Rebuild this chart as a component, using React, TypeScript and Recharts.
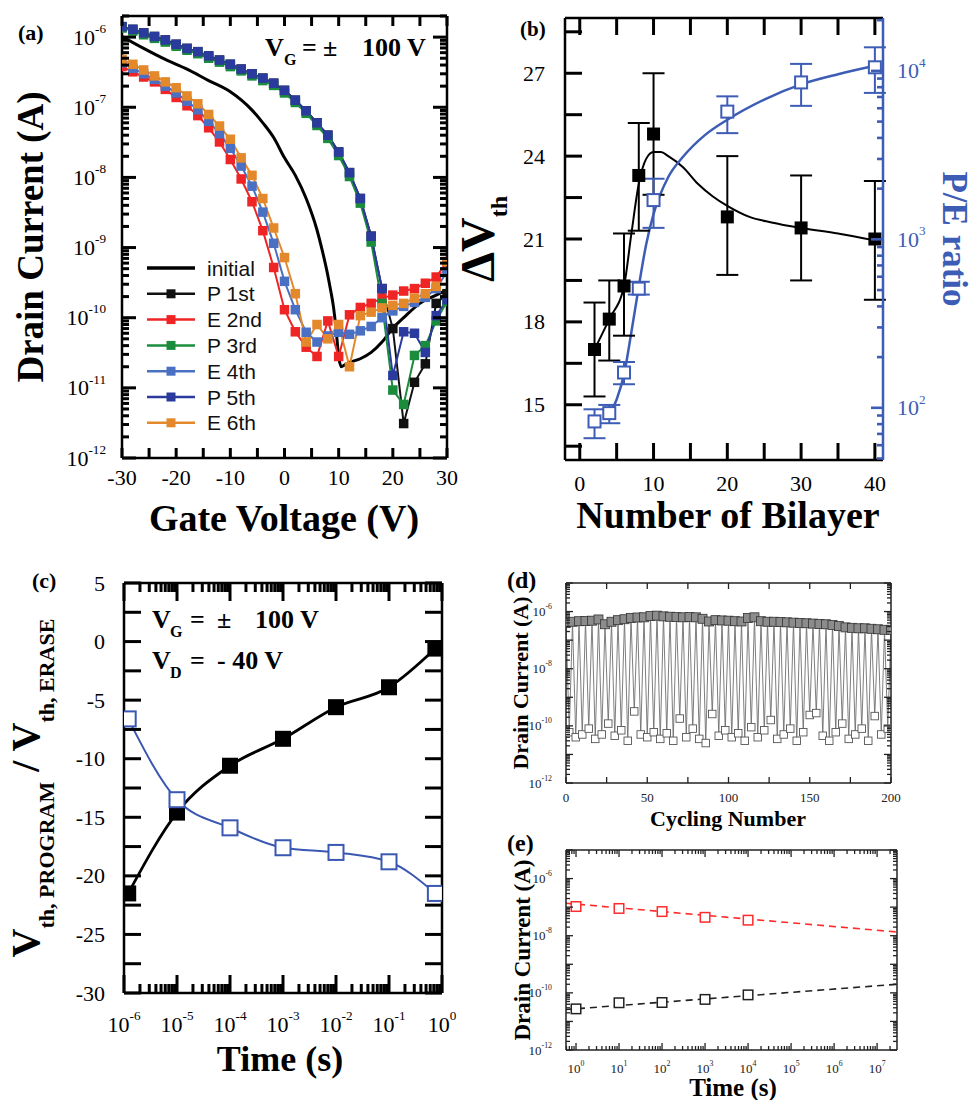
import React from 'react';
import { ComposedChart, Line, Scatter, XAxis, YAxis, ErrorBar, Legend } from 'recharts';

const SERIF = '"Liberation Serif","Times New Roman",Times,serif';
const SANS = '"Liberation Sans",Arial,Helvetica,sans-serif';
const PE_BLUE = '#3d5cb5';

/* ---------------- Panel (a): transfer curves ---------------- */
const gateVoltage = [-30, -28, -26, -24, -22, -20, -18, -16, -14, -12, -10, -8, -6, -4, -2, 0, 2, 4, 6, 8, 10, 12, 14, 16, 18, 20, 22, 24, 26, 28, 30];
const initialVg = [-30, -26, -22, -18, -14, -10, -6, -4, -2, 0, 2, 4, 6, 7, 8, 8.5, 9, 9.5, 10, 10.5, 11, 12, 14, 16, 18, 20, 22, 25, 28, 30];
const initialId = [1.02e-6, 6.9e-7, 4.8e-7, 3.5e-7, 2.4e-7, 1.66e-7, 9.1e-8, 6.0e-8, 3.7e-8, 1.9e-8, 1.07e-8, 5.0e-9, 1.78e-9, 8.9e-10, 4.0e-10, 2.5e-10, 1.5e-10, 7.1e-11, 2.8e-11, 2.0e-11, 2.1e-11, 2.3e-11, 2.6e-11, 3.2e-11, 4.5e-11, 7.1e-11, 1.0e-10, 1.6e-10, 2.1e-10, 2.5e-10];
const p1st = [1.41e-6, 1.29e-6, 1.15e-6, 1.02e-6, 9.1e-7, 7.9e-7, 6.9e-7, 6.2e-7, 5.4e-7, 4.7e-7, 4.1e-7, 3.5e-7, 3.0e-7, 2.6e-7, 2.2e-7, 1.74e-7, 1.26e-7, 8.9e-8, 6.0e-8, 4.0e-8, 2.3e-8, 1.17e-8, 5.0e-9, 1.45e-9, 2.6e-10, 7.0e-11, 3.1e-12, 1.2e-11, 2.2e-11, 1.6e-10, 2.2e-10];
const e2nd = [3.8e-7, 3.2e-7, 2.7e-7, 2.3e-7, 1.8e-7, 1.38e-7, 1.05e-7, 7.6e-8, 5.1e-8, 3.2e-8, 1.8e-8, 9.5e-9, 4.5e-9, 1.74e-9, 5.2e-10, 1.3e-10, 6.3e-11, 3.8e-11, 2.8e-11, 9.0e-11, 2.8e-11, 1.1e-10, 1.4e-10, 1.6e-10, 1.9e-10, 2.1e-10, 2.4e-10, 2.6e-10, 3.1e-10, 3.8e-10, 6.3e-10];
const p3rd = [1.35e-6, 1.22e-6, 1.08e-6, 9.6e-7, 8.5e-7, 7.4e-7, 6.5e-7, 5.8e-7, 5.0e-7, 4.4e-7, 3.8e-7, 3.3e-7, 2.8e-7, 2.4e-7, 2.05e-7, 1.6e-7, 1.17e-7, 8.2e-8, 5.5e-8, 3.6e-8, 2.05e-8, 1.03e-8, 4.3e-9, 1.2e-9, 1.6e-10, 9.3e-12, 5.8e-12, 2.9e-11, 4.0e-11, 9.0e-11, 1.7e-10];
const e4th = [4.3e-7, 3.6e-7, 3.0e-7, 2.5e-7, 2.0e-7, 1.6e-7, 1.22e-7, 9.2e-8, 6.3e-8, 4.2e-8, 2.6e-8, 1.45e-8, 7.5e-9, 3.2e-9, 1.15e-9, 3.3e-10, 1.3e-10, 6.2e-11, 4.5e-11, 5.5e-11, 6.2e-11, 5.8e-11, 6.5e-11, 7.5e-11, 1.0e-10, 1.25e-10, 1.45e-10, 1.65e-10, 1.95e-10, 2.6e-10, 4.5e-10];
const p5th = [1.41e-6, 1.29e-6, 1.15e-6, 1.02e-6, 9.1e-7, 7.9e-7, 6.9e-7, 6.2e-7, 5.4e-7, 4.7e-7, 4.1e-7, 3.5e-7, 3.0e-7, 2.6e-7, 2.2e-7, 1.74e-7, 1.26e-7, 8.9e-8, 6.0e-8, 4.0e-8, 2.3e-8, 1.17e-8, 5.0e-9, 1.45e-9, 2.6e-10, 1.5e-11, 6.3e-11, 6.0e-11, 3.2e-11, 1.07e-10, 1.8e-10];
const e6th = [4.8e-7, 4.1e-7, 3.4e-7, 2.8e-7, 2.3e-7, 1.9e-7, 1.45e-7, 1.12e-7, 7.9e-8, 5.4e-8, 3.5e-8, 1.9e-8, 1.07e-8, 5.0e-9, 1.9e-9, 7.2e-10, 2.2e-10, 4.5e-11, 8.0e-11, 5.0e-11, 8.0e-11, 2.0e-11, 1.07e-10, 1.2e-10, 1.38e-10, 1.5e-10, 1.6e-10, 1.9e-10, 2.2e-10, 2.8e-10, 6.3e-10];
const aSeriesNames = ['P 1st', 'E 2nd', 'P 3rd', 'E 4th', 'P 5th', 'E 6th'];
const aSeriesColors = ['#111111', '#ef2424', '#1b8c3c', '#4a70c4', '#2b3b9d', '#e3892b'];
const aSeriesValues = [p1st, e2nd, p3rd, e4th, p5th, e6th];
const aXTicks = [-30, -25, -20, -15, -10, -5, 0, 5, 10, 15, 20, 25, 30];

/* ---------------- Panel (b): bilayer dependence ---------------- */
const bilayers = [2, 4, 6, 8, 10, 20, 30, 40];
const deltaVth = [17.0, 18.1, 19.3, 23.3, 24.8, 21.8, 21.4, 21.0];
const deltaVthLow = [15.3, 16.6, 17.5, 21.3, 22.6, 19.7, 19.5, 18.8];
const deltaVthHigh = [18.7, 19.5, 21.2, 25.2, 27.0, 24.0, 23.3, 23.1];
const peRatio = [83, 93, 162, 510, 1710, 5730, 8540, 10500];
const peRatioLow = [66, 81, 138, 470, 1170, 4270, 6200, 7400];
const peRatioHigh = [98, 104, 187, 560, 2290, 7060, 11000, 13800];
const fitBilayerVth = [2, 4, 6, 7, 8, 9, 10, 11, 12, 14, 16, 18, 20, 23, 26, 30, 35, 40];
const fitDeltaVth = [17.0, 18.1, 19.3, 21.2, 23.0, 23.9, 24.15, 24.15, 24.0, 23.6, 23.0, 22.55, 22.2, 21.8, 21.6, 21.4, 21.2, 20.95];
const fitBilayerRatio = [4, 5, 6, 7, 8, 9, 10, 12, 14, 17, 20, 25, 30, 35, 40];
const fitPeRatio = [91, 112, 158, 282, 525, 933, 1413, 2344, 3090, 4169, 5129, 6761, 8318, 9550, 10715];
const bXTicks = [0, 5, 10, 15, 20, 25, 30, 35, 40];
const bYTicks = [13.5, 15, 16.5, 18, 19.5, 21, 22.5, 24, 25.5, 27, 28.5];

/* ---------------- Panel (c): threshold voltage vs time ---------------- */
const retentionTime = [1.2e-6, 1e-5, 1e-4, 1e-3, 1e-2, 1e-1, 0.75];
const vthProgram = [-21.5, -14.6, -10.6, -8.3, -5.6, -3.9, -0.6];
const vthErase = [-6.6, -13.5, -15.9, -17.6, -18.0, -18.8, -21.5];
const cYTicks = [-30, -27.5, -25, -22.5, -20, -17.5, -15, -12.5, -10, -7.5, -5, -2.5, 0, 2.5, 5];

/* ---------------- Panel (d): endurance cycling ---------------- */
const programCurrent = [4.0e-7, 4.4e-7, 4.6e-7, 4.7e-7, 4.8e-7, 5.3e-7, 3.6e-7, 4.4e-7, 5.0e-7, 5.4e-7, 6.0e-7, 6.2e-7, 6.3e-7, 7.0e-7, 7.2e-7, 6.8e-7, 6.6e-7, 6.4e-7, 6.3e-7, 6.4e-7, 6.3e-7, 5.6e-7, 4.5e-7, 5.0e-7, 4.9e-7, 4.8e-7, 4.6e-7, 4.5e-7, 6.0e-7, 6.3e-7, 4.6e-7, 4.4e-7, 4.4e-7, 4.3e-7, 4.2e-7, 4.1e-7, 4.0e-7, 3.9e-7, 3.8e-7, 3.7e-7, 3.6e-7, 3.4e-7, 3.1e-7, 2.8e-7, 2.7e-7, 2.6e-7, 2.6e-7, 2.5e-7, 2.4e-7, 2.3e-7, 2.3e-7];
const eraseCurrent = [6e-11, 4e-11, 5e-11, 8e-11, 3.5e-11, 5e-11, 1.2e-10, 4.5e-11, 7e-11, 3e-11, 3.2e-10, 5e-11, 4e-11, 6e-11, 3.5e-11, 5.5e-11, 3e-11, 1.8e-10, 4e-11, 8e-11, 3.5e-11, 2.5e-11, 2.6e-10, 4.5e-11, 7e-11, 4e-11, 5.5e-11, 3e-11, 9e-11, 4e-11, 7e-11, 1.6e-10, 3.5e-11, 5e-11, 8e-11, 3e-11, 6e-11, 2.4e-10, 2.8e-10, 4.5e-11, 3e-11, 6e-11, 1.2e-10, 3.5e-11, 5e-11, 8e-11, 3e-11, 2.2e-10, 5e-11, 8e-11];
const cycleStep = 4;
const dXTicks = [0, 25, 50, 75, 100, 125, 150, 175, 200];

/* ---------------- Panel (e): retention ---------------- */
const storageTime = [1, 10, 100, 1000, 10000];
const programRetention = [1.05e-7, 9.0e-8, 7.0e-8, 4.4e-8, 3.5e-8];
const eraseRetention = [2.75e-11, 4.5e-11, 4.6e-11, 5.9e-11, 8.5e-11];
const fitTime = [0.585, 2.9e7];
const programFit = [1.37e-7, 1.35e-8];
const eraseFit = [2.6e-11, 2.0e-10];

/* ---------------- helpers ---------------- */
function logTicks(min: number, max: number): number[] {
  const out: number[] = [];
  for (let e = Math.floor(Math.log10(min)); e <= Math.ceil(Math.log10(max)); e++) {
    for (let k = 1; k <= 9; k++) {
      const v = k * Math.pow(10, e);
      if (v >= min * (1 - 1e-9) && v <= max * (1 + 1e-9)) out.push(v);
    }
  }
  return out;
}
const isDecade = (v: number) => Math.abs(Math.log10(v) - Math.round(Math.log10(v))) < 1e-6;
const expOf = (v: number) => Math.round(Math.log10(v));
const isMult = (v: number, m: number) => Math.abs(v / m - Math.round(v / m)) < 1e-9;

const pow10 = (v: number, fs: number) => (
  <>
    10<tspan fontSize={fs * 0.6} dy={-fs * 0.42}>{String(expOf(v))}</tspan>
  </>
);

type Side = 'left' | 'right' | 'bottom';
function makeLabel(side: Side, label: (v: number) => React.ReactNode | null, off: number, fs: number, color = '#000') {
  return (props: any) => {
    const x = Number(props.x);
    const y = Number(props.y);
    const v = Number(props.payload ? props.payload.value : NaN);
    const content = label(v);
    if (content == null) return <g />;
    let tx = x, ty = y;
    let anchor: 'start' | 'middle' | 'end' = 'middle';
    if (side === 'left') { tx = x - off; anchor = 'end'; }
    else if (side === 'right') { tx = x + off; anchor = 'start'; }
    else { ty = y + off; }
    return (
      <text x={tx} y={ty} textAnchor={anchor} dominantBaseline="central" fontFamily={SERIF} fontSize={fs} fill={color}>
        {content}
      </text>
    );
  };
}

const squareDot = (size: number, fill: string, stroke: string, sw = 0) => (p: any) => {
  if (p == null || p.cx == null || p.cy == null || isNaN(p.cx) || isNaN(p.cy)) return <g key={`n-${p && p.index}`} />;
  return (
    <rect key={`s-${p.index}`} x={p.cx - size / 2} y={p.cy - size / 2} width={size} height={size} fill={fill} stroke={stroke} strokeWidth={sw} />
  );
};
const squareShape = (size: number, fill: string, stroke: string, sw = 0) => (p: any) => (
  <rect x={p.cx - size / 2} y={p.cy - size / 2} width={size} height={size} fill={fill} stroke={stroke} strokeWidth={sw} />
);

const noMargin = { top: 0, right: 0, bottom: 0, left: 0 };
const axisCommon = { interval: 0 as const, tickSize: 0, tickMargin: 0, tickLine: false, allowDataOverflow: true };
const noTick = () => <g />;

/* ---------------- frame geometry (chart boxes & axis sizes) ---------------- */
interface Frame { left: number; top: number; w: number; h: number; yl: number; yr: number; xt: number; xb: number }
const FA: Frame = { left: 0, top: 0, w: 470, h: 540, yl: 122, yr: 23, xt: 16, xb: 82 };
const FB: Frame = { left: 470, top: 0, w: 504, h: 540, yl: 95, yr: 91, xt: 18, xb: 80 };
const FC: Frame = { left: 0, top: 545, w: 480, h: 555, yl: 124, yr: 38, xt: 38, xb: 107 };
const FD: Frame = { left: 490, top: 560, w: 484, h: 255, yl: 76, yr: 83, xt: 23, xb: 32 };
const FE: Frame = { left: 490, top: 820, w: 484, h: 280, yl: 76, yr: 77, xt: 30, xb: 50 };
const plotOf = (f: Frame) => ({ x0: f.left + f.yl, x1: f.left + f.w - f.yr, y0: f.top + f.xt, y1: f.top + f.h - f.xb });

const A_X: [number, number] = [-30, 30];
const A_Y: [number, number] = [1e-12, 2e-6];
const B_X: [number, number] = [-2, 41.1];
const B_YL: [number, number] = [13, 29];
const B_YR: [number, number] = [49, 20600];
const C_X: [number, number] = [1e-6, 1];
const C_Y: [number, number] = [-30, 5];
const D_X: [number, number] = [0, 200];
const D_Y: [number, number] = [1e-12, 1e-5];
const E_X: [number, number] = [0.585, 2.9e7];
const E_Y: [number, number] = [1e-12, 1e-5];

/* inward frame ticks, mapped with the same domains the chart axes use */
const mapper = (dom: [number, number], r0: number, r1: number, log: boolean) => (v: number) =>
  log
    ? r0 + ((Math.log10(v) - Math.log10(dom[0])) / (Math.log10(dom[1]) - Math.log10(dom[0]))) * (r1 - r0)
    : r0 + ((v - dom[0]) / (dom[1] - dom[0])) * (r1 - r0);

interface Seg { x1: number; y1: number; x2: number; y2: number }
function tickSegs(f: Frame, side: 'x' | 'yl' | 'yr' | 'ylr', ticks: number[], dom: [number, number], log: boolean, len: (v: number) => number): Seg[] {
  const p = plotOf(f);
  const out: Seg[] = [];
  if (side === 'x') {
    const m = mapper(dom, p.x0, p.x1, log);
    ticks.forEach((v) => {
      const x = m(v);
      const L = len(v);
      out.push({ x1: x, y1: p.y1, x2: x, y2: p.y1 - L });
      out.push({ x1: x, y1: p.y0, x2: x, y2: p.y0 + L });
    });
  } else {
    const m = mapper(dom, p.y1, p.y0, log);
    ticks.forEach((v) => {
      const y = m(v);
      const L = len(v);
      if (side === 'yl' || side === 'ylr') out.push({ x1: p.x0, y1: y, x2: p.x0 + L, y2: y });
      if (side === 'yr' || side === 'ylr') out.push({ x1: p.x1, y1: y, x2: p.x1 - L, y2: y });
    });
  }
  return out;
}

/* ---------------- Panel A ---------------- */
const aYTicks = logTicks(A_Y[0], A_Y[1]);
const aInitialData = initialVg.map((x, i) => ({ x, y: initialId[i] }));
const aData = aSeriesValues.map((vals) => gateVoltage.map((x, i) => ({ x, y: vals[i] })));

const legendRowY = (i: number) => 13 + 25.8 * i;
const LegendA = () => (
  <svg width={150} height={190} style={{ overflow: 'visible', display: 'block' }}>
    <line x1={7} x2={55} y1={legendRowY(0)} y2={legendRowY(0)} stroke="#000" strokeWidth={3.5} />
    <text x={67} y={legendRowY(0)} dominantBaseline="central" fontFamily={SANS} fontSize={21} fill="#111">initial</text>
    {aSeriesNames.map((n, i) => (
      <g key={n}>
        <line x1={7} x2={55} y1={legendRowY(i + 1)} y2={legendRowY(i + 1)} stroke={aSeriesColors[i]} strokeWidth={2.5} />
        <rect x={31 - 4.5} y={legendRowY(i + 1) - 4.5} width={9} height={9} fill={aSeriesColors[i]} />
        <text x={67} y={legendRowY(i + 1)} dominantBaseline="central" fontFamily={SANS} fontSize={21} fill="#111">{n}</text>
      </g>
    ))}
  </svg>
);

function PanelA() {
  const axisLine = { stroke: '#000', strokeWidth: 2.5 };
  return (
    <ComposedChart width={FA.w} height={FA.h} margin={noMargin}>
      <XAxis xAxisId="x" dataKey="x" type="number" domain={A_X} ticks={aXTicks} {...axisCommon} axisLine={axisLine} height={FA.xb}
        tick={makeLabel('bottom', (v) => (isMult(v, 10) ? String(v) : null), 19, 22)} />
      <XAxis xAxisId="xt" orientation="top" dataKey="x" type="number" domain={A_X} ticks={aXTicks} {...axisCommon} axisLine={axisLine} height={FA.xt} tick={noTick} />
      <YAxis yAxisId="y" type="number" scale="log" domain={A_Y} ticks={aYTicks} {...axisCommon} axisLine={axisLine} width={FA.yl}
        tick={makeLabel('left', (v) => (isDecade(v) ? pow10(v, 22) : null), 16, 22)} />
      <YAxis yAxisId="yr" orientation="right" type="number" scale="log" domain={A_Y} ticks={aYTicks} {...axisCommon} axisLine={axisLine} width={FA.yr} tick={noTick} />
      <Line xAxisId="x" yAxisId="y" data={aInitialData} dataKey="y" name="initial" type="monotone" stroke="#000" strokeWidth={3} dot={false} activeDot={false} isAnimationActive={false} />
      {aData.map((d, i) => (
        <Line key={aSeriesNames[i]} xAxisId="x" yAxisId="y" data={d} dataKey="y" name={aSeriesNames[i]} type="linear" stroke={aSeriesColors[i]} strokeWidth={2}
          dot={squareDot(9.5, aSeriesColors[i], aSeriesColors[i])} activeDot={false} isAnimationActive={false} />
      ))}
      <Legend layout="vertical" align="center" verticalAlign="middle" content={() => <LegendA />}
        wrapperStyle={{ position: 'absolute', left: 140, top: 255, width: 150, height: 190 }} />
    </ComposedChart>
  );
}

/* ---------------- Panel B ---------------- */
const bRightTicks = logTicks(B_YR[0], B_YR[1]);
const bVthData = bilayers.map((x, i) => ({ x, y: deltaVth[i], err: [deltaVth[i] - deltaVthLow[i], deltaVthHigh[i] - deltaVth[i]] }));
const bRatioData = bilayers.map((x, i) => ({ x, y: peRatio[i], err: [peRatio[i] - peRatioLow[i], peRatioHigh[i] - peRatio[i]] }));
const bFitVth = fitBilayerVth.map((x, i) => ({ x, y: fitDeltaVth[i] }));
const bFitRatio = fitBilayerRatio.map((x, i) => ({ x, y: fitPeRatio[i] }));

function PanelB() {
  const axisLine = { stroke: '#000', strokeWidth: 2.5 };
  return (
    <ComposedChart width={FB.w} height={FB.h} margin={noMargin}>
      <XAxis xAxisId="x" dataKey="x" type="number" domain={B_X} ticks={bXTicks} {...axisCommon} axisLine={axisLine} height={FB.xb}
        tick={makeLabel('bottom', (v) => (isMult(v, 10) ? String(v) : null), 23, 22)} />
      <XAxis xAxisId="xt" orientation="top" dataKey="x" type="number" domain={B_X} ticks={bXTicks} {...axisCommon} axisLine={axisLine} height={FB.xt} tick={noTick} />
      <YAxis yAxisId="l" type="number" domain={B_YL} ticks={bYTicks} {...axisCommon} axisLine={axisLine} width={FB.yl}
        tick={makeLabel('left', (v) => (isMult(v, 3) ? String(v) : null), 20, 22)} />
      <YAxis yAxisId="r" orientation="right" type="number" scale="log" domain={B_YR} ticks={bRightTicks} {...axisCommon}
        axisLine={{ stroke: PE_BLUE, strokeWidth: 2.5 }} width={FB.yr}
        tick={makeLabel('right', (v) => (isDecade(v) ? pow10(v, 22) : null), 14, 22, PE_BLUE)} />
      <Line xAxisId="x" yAxisId="l" data={bFitVth} dataKey="y" type="monotone" stroke="#000" strokeWidth={2} dot={false} activeDot={false} isAnimationActive={false} />
      <Line xAxisId="x" yAxisId="r" data={bFitRatio} dataKey="y" type="monotone" stroke={PE_BLUE} strokeWidth={2.5} dot={false} activeDot={false} isAnimationActive={false} />
      <Scatter xAxisId="x" yAxisId="l" data={bVthData} dataKey="y" shape={squareShape(13, '#000', '#000')} isAnimationActive={false}>
        <ErrorBar dataKey="err" direction="y" width={11} stroke="#000" strokeWidth={2} />
      </Scatter>
      <Scatter xAxisId="x" yAxisId="r" data={bRatioData} dataKey="y" shape={squareShape(12, '#fff', PE_BLUE, 2)} isAnimationActive={false}>
        <ErrorBar dataKey="err" direction="y" width={11} stroke={PE_BLUE} strokeWidth={2} />
      </Scatter>
    </ComposedChart>
  );
}

/* ---------------- Panel C ---------------- */
const cXTicks = logTicks(C_X[0], C_X[1]);
const cProgData = retentionTime.map((x, i) => ({ x, y: vthProgram[i] }));
const cEraseData = retentionTime.map((x, i) => ({ x, y: vthErase[i] }));
const C_BLUE = '#3a57b2';

function PanelC() {
  const axisLine = { stroke: '#000', strokeWidth: 2.5 };
  return (
    <ComposedChart width={FC.w} height={FC.h} margin={noMargin}>
      <XAxis xAxisId="x" dataKey="x" type="number" scale="log" domain={C_X} ticks={cXTicks} {...axisCommon} axisLine={axisLine} height={FC.xb}
        tick={makeLabel('bottom', (v) => (isDecade(v) ? pow10(v, 22) : null), 31, 22)} />
      <XAxis xAxisId="xt" orientation="top" dataKey="x" type="number" scale="log" domain={C_X} ticks={cXTicks} {...axisCommon} axisLine={axisLine} height={FC.xt} tick={noTick} />
      <YAxis yAxisId="y" type="number" domain={C_Y} ticks={cYTicks} {...axisCommon} axisLine={axisLine} width={FC.yl}
        tick={makeLabel('left', (v) => (isMult(v, 5) ? String(v) : null), 19, 22)} />
      <YAxis yAxisId="yr" orientation="right" type="number" domain={C_Y} ticks={cYTicks} {...axisCommon} axisLine={axisLine} width={FC.yr} tick={noTick} />
      <Line xAxisId="x" yAxisId="y" data={cProgData} dataKey="y" type="monotone" stroke="#000" strokeWidth={2.8}
        dot={squareDot(16, '#000', '#000')} activeDot={false} isAnimationActive={false} />
      <Line xAxisId="x" yAxisId="y" data={cEraseData} dataKey="y" type="monotone" stroke={C_BLUE} strokeWidth={2}
        dot={squareDot(15, '#fff', C_BLUE, 2)} activeDot={false} isAnimationActive={false} />
    </ComposedChart>
  );
}

/* ---------------- Panel D ---------------- */
const dYTicks = logTicks(D_Y[0], D_Y[1]);
const dProgData = programCurrent.map((y, i) => ({ x: i * cycleStep, y }));
const dEraseData = eraseCurrent.map((y, i) => ({ x: i * cycleStep + cycleStep / 2, y }));
const dZigzag: { x: number; y: number }[] = [];
programCurrent.forEach((y, i) => {
  dZigzag.push(dProgData[i]);
  if (i < eraseCurrent.length) dZigzag.push(dEraseData[i]);
});

function PanelD() {
  const axisLine = { stroke: '#222', strokeWidth: 1.5 };
  return (
    <ComposedChart width={FD.w} height={FD.h} margin={noMargin}>
      <XAxis xAxisId="x" dataKey="x" type="number" domain={D_X} ticks={dXTicks} {...axisCommon} axisLine={axisLine} height={FD.xb}
        tick={makeLabel('bottom', (v) => (isMult(v, 50) ? String(v) : null), 14, 13, '#222')} />
      <XAxis xAxisId="xt" orientation="top" dataKey="x" type="number" domain={D_X} ticks={dXTicks} {...axisCommon} axisLine={axisLine} height={FD.xt} tick={noTick} />
      <YAxis yAxisId="y" type="number" scale="log" domain={D_Y} ticks={dYTicks} {...axisCommon} axisLine={axisLine} width={FD.yl}
        tick={makeLabel('left', (v) => (isDecade(v) && expOf(v) % 2 === 0 ? pow10(v, 13) : null), 14, 13, '#222')} />
      <YAxis yAxisId="yr" orientation="right" type="number" scale="log" domain={D_Y} ticks={dYTicks} {...axisCommon} axisLine={axisLine} width={FD.yr} tick={noTick} />
      <Line xAxisId="x" yAxisId="y" data={dZigzag} dataKey="y" type="linear" stroke="#6f6f6f" strokeWidth={0.9} dot={false} activeDot={false} isAnimationActive={false} />
      <Line xAxisId="x" yAxisId="y" data={dProgData} dataKey="y" type="linear" stroke="#222" strokeWidth={1.4} dot={false} activeDot={false} isAnimationActive={false} />
      <Scatter xAxisId="x" yAxisId="y" data={dProgData} dataKey="y" shape={squareShape(9, '#8c8c8c', '#333', 0.8)} isAnimationActive={false} />
      <Scatter xAxisId="x" yAxisId="y" data={dEraseData} dataKey="y" shape={squareShape(7.5, '#fff', '#555', 0.9)} isAnimationActive={false} />
    </ComposedChart>
  );
}

/* ---------------- Panel E ---------------- */
const eXTicks = logTicks(E_X[0], E_X[1]);
const eYTicks = logTicks(E_Y[0], E_Y[1]);
const eProgData = storageTime.map((x, i) => ({ x, y: programRetention[i] }));
const eEraseData = storageTime.map((x, i) => ({ x, y: eraseRetention[i] }));
const eProgFit = fitTime.map((x, i) => ({ x, y: programFit[i] }));
const eEraseFit = fitTime.map((x, i) => ({ x, y: eraseFit[i] }));

function PanelE() {
  const axisLine = { stroke: '#222', strokeWidth: 1.5 };
  return (
    <ComposedChart width={FE.w} height={FE.h} margin={noMargin}>
      <XAxis xAxisId="x" dataKey="x" type="number" scale="log" domain={E_X} ticks={eXTicks} {...axisCommon} axisLine={axisLine} height={FE.xb}
        tick={makeLabel('bottom', (v) => (isDecade(v) ? pow10(v, 13) : null), 18, 13, '#222')} />
      <XAxis xAxisId="xt" orientation="top" dataKey="x" type="number" scale="log" domain={E_X} ticks={eXTicks} {...axisCommon} axisLine={axisLine} height={FE.xt} tick={noTick} />
      <YAxis yAxisId="y" type="number" scale="log" domain={E_Y} ticks={eYTicks} {...axisCommon} axisLine={axisLine} width={FE.yl}
        tick={makeLabel('left', (v) => (isDecade(v) && expOf(v) % 2 === 0 ? pow10(v, 13) : null), 14, 13, '#222')} />
      <YAxis yAxisId="yr" orientation="right" type="number" scale="log" domain={E_Y} ticks={eYTicks} {...axisCommon} axisLine={axisLine} width={FE.yr} tick={noTick} />
      <Line xAxisId="x" yAxisId="y" data={eProgFit} dataKey="y" type="linear" stroke="#ff2b2b" strokeWidth={1.6} strokeDasharray="7 5" dot={false} activeDot={false} isAnimationActive={false} />
      <Line xAxisId="x" yAxisId="y" data={eEraseFit} dataKey="y" type="linear" stroke="#222" strokeWidth={1.6} strokeDasharray="7 5" dot={false} activeDot={false} isAnimationActive={false} />
      <Scatter xAxisId="x" yAxisId="y" data={eProgData} dataKey="y" shape={squareShape(9.5, '#fff', '#ff2b2b', 1.5)} isAnimationActive={false} />
      <Scatter xAxisId="x" yAxisId="y" data={eEraseData} dataKey="y" shape={squareShape(9.5, '#fff', '#222', 1.5)} isAnimationActive={false} />
    </ComposedChart>
  );
}

/* ---------------- frame tick layers (HTML-positioned, like the legend) ---------------- */
const logLen = (maj: number, min: number) => (v: number) => (isDecade(v) ? maj : min);
const segsBlack: Seg[] = [
  ...tickSegs(FA, 'x', aXTicks, A_X, false, () => 10),
  ...tickSegs(FA, 'ylr', logTicks(A_Y[0], A_Y[1]), A_Y, true, logLen(14, 7)),
  ...tickSegs(FB, 'x', bXTicks, B_X, false, () => 17),
  ...tickSegs(FB, 'yl', bYTicks, B_YL, false, () => 17),
  ...tickSegs(FC, 'x', logTicks(C_X[0], C_X[1]), C_X, true, logLen(18, 9)),
  ...tickSegs(FC, 'ylr', cYTicks, C_Y, false, () => 17),
];
const segsBlue: Seg[] = tickSegs(FB, 'yr', logTicks(B_YR[0], B_YR[1]), B_YR, true, logLen(12, 6));
const segsSmall: Seg[] = [
  ...tickSegs(FD, 'x', dXTicks, D_X, false, () => 6),
  ...tickSegs(FD, 'ylr', logTicks(D_Y[0], D_Y[1]), D_Y, true, logLen(7, 4)),
  ...tickSegs(FE, 'x', logTicks(E_X[0], E_X[1]), E_X, true, logLen(7, 4)),
  ...tickSegs(FE, 'ylr', logTicks(E_Y[0], E_Y[1]), E_Y, true, logLen(7, 4)),
];

function TickLayer() {
  const draw = (segs: Seg[], color: string, sw: number, k: string) =>
    segs.map((s, i) => <line key={`${k}${i}`} x1={s.x1} y1={s.y1} x2={s.x2} y2={s.y2} stroke={color} strokeWidth={sw} strokeLinecap="butt" />);
  return (
    <div style={{ position: 'absolute', left: 0, top: 0, width: 974, height: 1100, pointerEvents: 'none', zIndex: 5 }}>
      <svg width={974} height={1100} style={{ display: 'block', overflow: 'visible' }}>
        <g>{draw(segsBlack, '#000', 3, 'k')}</g>
        <g>{draw(segsBlue, PE_BLUE, 2.6, 'b')}</g>
        <g>{draw(segsSmall, '#222', 1.3, 's')}</g>
      </svg>
    </div>
  );
}

/* ---------------- Titles / annotations ---------------- */
function Annotations() {
  const b = { fontFamily: SERIF, fontWeight: 700 as const, fill: '#000' };
  return (
    <svg width={974} height={1100} style={{ position: 'absolute', left: 0, top: 0, pointerEvents: 'none', zIndex: 6 }}>
      {/* (a) */}
      <text x={18} y={40} fontSize={22} {...b}>(a)</text>
      <text transform="translate(43,237) rotate(-90)" textAnchor="middle" fontSize={37} {...b}>Drain Current (A)</text>
      <text x={284} y={531} textAnchor="middle" fontSize={38} {...b}>Gate Voltage (V)</text>
      <text y={56} fontSize={26} {...b}>
        <tspan x={265}>V</tspan>
        <tspan x={284} dy={9} fontSize={16}>G</tspan>
        <tspan x={302} dy={-9}>=</tspan>
        <tspan x={323}>±</tspan>
        <tspan x={362}>100 V</tspan>
      </text>
      {/* (b) */}
      <text x={520} y={36} fontSize={21} {...b}>(b)</text>
      <text x={728} y={528} textAnchor="middle" fontSize={38} {...b}>Number of Bilayer</text>
      <text transform="translate(494,239) rotate(-90)" textAnchor="middle" fontSize={48} {...b}>
        ΔV<tspan fontSize={24} dy={13}>th</tspan>
      </text>
      <text transform="translate(943,239) rotate(90)" textAnchor="middle" fontSize={35} {...b} fill={PE_BLUE}>P/E ratio</text>
      {/* (c) */}
      <text x={32} y={588} fontSize={22} {...b}>(c)</text>
      <text transform="translate(39,788) rotate(-90)" textAnchor="middle" fontSize={40} {...b}>
        V<tspan fontSize={22} dy={15}>th, PROGRAM</tspan>
        <tspan dy={-15}> / V</tspan>
        <tspan fontSize={22} dy={15}>th, ERASE</tspan>
      </text>
      <text x={280} y={1071} textAnchor="middle" fontSize={36} {...b}>Time (s)</text>
      <text y={628} fontSize={26} {...b}>
        <tspan x={152}>V</tspan>
        <tspan x={170} dy={9} fontSize={16}>G</tspan>
        <tspan x={190} dy={-9}>=</tspan>
        <tspan x={217}>±</tspan>
        <tspan x={255}>100 V</tspan>
      </text>
      <text y={669} fontSize={26} {...b}>
        <tspan x={152}>V</tspan>
        <tspan x={170} dy={9} fontSize={16}>D</tspan>
        <tspan x={190} dy={-9}>=</tspan>
        <tspan x={217}>- 40 V</tspan>
      </text>
      {/* (d) */}
      <text x={507} y={588} fontSize={24} {...b}>(d)</text>
      <text transform="translate(528,683) rotate(-90)" textAnchor="middle" fontSize={22} {...b}>Drain Current (A)</text>
      <text x={728} y={826} textAnchor="middle" fontSize={22} {...b}>Cycling Number</text>
      {/* (e) */}
      <text x={507} y={851} fontSize={24} {...b}>(e)</text>
      <text transform="translate(530,950) rotate(-90)" textAnchor="middle" fontSize={23} {...b}>Drain Current (A)</text>
      <text x={733} y={1096} textAnchor="middle" fontSize={25} {...b}>Time (s)</text>
    </svg>
  );
}

export default function App() {
  return (
    <div style={{ position: 'absolute', left: 0, top: 0, width: 974, height: 1100, background: '#fff', overflow: 'hidden' }}>
      <div style={{ position: 'absolute', left: FA.left, top: FA.top }}><PanelA /></div>
      <div style={{ position: 'absolute', left: FB.left, top: FB.top }}><PanelB /></div>
      <div style={{ position: 'absolute', left: FC.left, top: FC.top }}><PanelC /></div>
      <div style={{ position: 'absolute', left: FD.left, top: FD.top }}><PanelD /></div>
      <div style={{ position: 'absolute', left: FE.left, top: FE.top }}><PanelE /></div>
      <TickLayer />
      <Annotations />
    </div>
  );
}
